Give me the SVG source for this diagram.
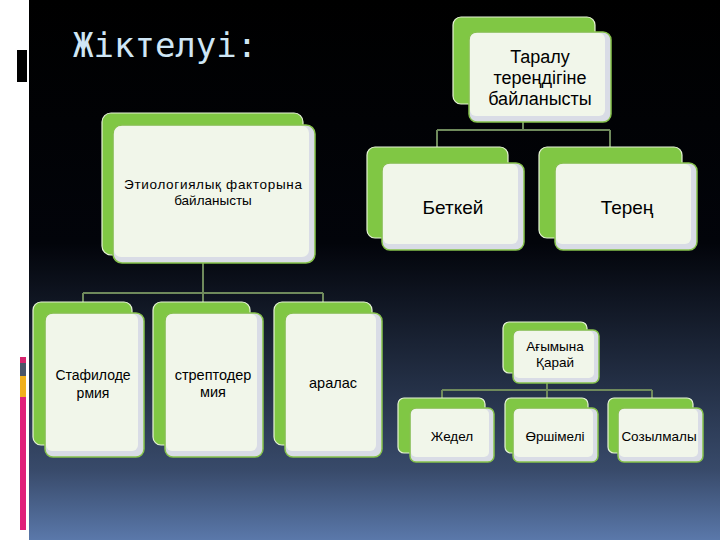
<svg xmlns="http://www.w3.org/2000/svg" width="720" height="540" viewBox="0 0 720 540">
  <defs>
    <linearGradient id="bg" x1="0" y1="0" x2="0" y2="1">
      <stop offset="0" stop-color="#000000"/>
      <stop offset="0.45" stop-color="#02040a"/>
      <stop offset="0.87" stop-color="#384a6a"/>
      <stop offset="1" stop-color="#5a78aa"/>
    </linearGradient>
    <style>
      .back { fill: #80c744; stroke: #e6f3d6; stroke-width: 1.2; }
      .shade { fill: #d9dce6; stroke: #86c24c; stroke-width: 1.5; }
      .face { fill: #f1f6ea; }
      .lbl { font-family: "Liberation Sans", Arial, sans-serif; fill: #000000; text-anchor: middle; }
      .conn { stroke: #6f8a5c; stroke-width: 2; fill: none; }
    </style>
  </defs>

  <rect x="0" y="0" width="720" height="540" fill="#ffffff"/>
  <rect x="29" y="0" width="691" height="540" fill="url(#bg)"/>

  <!-- left decorative bars -->
  <rect x="17" y="50" width="10" height="32" fill="#000000"/>
  <rect x="20" y="357" width="6" height="6" fill="#d6246e"/>
  <rect x="20" y="363" width="6" height="13" fill="#4a5568"/>
  <rect x="20" y="376" width="6" height="21" fill="#f0b01c"/>
  <rect x="20" y="397" width="6" height="133" fill="#e0207a"/>

  <text x="73" y="57" font-family="'DejaVu Sans Mono', 'Liberation Mono', monospace" font-size="34" fill="#cfe6f5">Жіктелуі:</text>

  <g id="connectors">
    <path class="conn" d="M523,122 V130 M437,130 H610 M437,130 V147 M610,130 V147"/>
    <path class="conn" d="M203,263 V293 M83,293 H323 M83,293 V302 M203,293 V302 M323,293 V302"/>
    <path class="conn" d="M547,383 V390 M442,390 H652 M442,390 V398 M547,390 V398 M652,390 V398"/>
  </g>

  <g id="n-taralu">
    <rect class="back" x="453" y="17" width="142" height="87" rx="8"/>
    <rect class="shade" x="469" y="32" width="142" height="90" rx="8"/>
    <rect class="face" x="470" y="33" width="135" height="83" rx="6"/>
    <text class="lbl" font-size="18"><tspan x="540" y="63">Таралу</tspan><tspan x="540" y="84">тереңдігіне</tspan><tspan x="540" y="105">байланысты</tspan></text>
  </g>

  <g id="n-etiol">
    <rect class="back" x="102" y="113" width="201" height="142" rx="9"/>
    <rect class="shade" x="113" y="125" width="202" height="138" rx="9"/>
    <rect class="face" x="114" y="126" width="195" height="131" rx="7"/>
    <text class="lbl" x="213" y="189" font-size="13.5" textLength="178" lengthAdjust="spacing">Этиологиялық факторына</text>
    <text class="lbl" x="213" y="205" font-size="13.5">байланысты</text>
  </g>

  <g id="n-betkei">
    <rect class="back" x="367" y="147" width="141" height="91" rx="8"/>
    <rect class="shade" x="382" y="163" width="142" height="87" rx="8"/>
    <rect class="face" x="383" y="164" width="135" height="80" rx="6"/>
    <text class="lbl" x="453" y="214" font-size="19">Беткей</text>
  </g>

  <g id="n-teren">
    <rect class="back" x="539" y="147" width="143" height="91" rx="8"/>
    <rect class="shade" x="555" y="163" width="142" height="87" rx="8"/>
    <rect class="face" x="556" y="164" width="135" height="80" rx="6"/>
    <text class="lbl" x="627" y="214" font-size="19">Терең</text>
  </g>

  <g id="n-staf">
    <rect class="back" x="33" y="302" width="99" height="143" rx="8"/>
    <rect class="shade" x="45" y="313" width="99" height="144" rx="8"/>
    <rect class="face" x="46" y="314" width="92" height="137" rx="6"/>
    <text class="lbl" font-size="14"><tspan x="93" y="380">Стафилоде</tspan><tspan x="93" y="398">рмия</tspan></text>
  </g>

  <g id="n-strep">
    <rect class="back" x="153" y="302" width="97" height="143" rx="8"/>
    <rect class="shade" x="165" y="313" width="98" height="144" rx="8"/>
    <rect class="face" x="166" y="314" width="91" height="137" rx="6"/>
    <text class="lbl" font-size="14.5"><tspan x="213" y="380">стрептодер</tspan><tspan x="213" y="397">мия</tspan></text>
  </g>

  <g id="n-aralas">
    <rect class="back" x="274" y="302" width="98" height="143" rx="8"/>
    <rect class="shade" x="285" y="313" width="97" height="144" rx="8"/>
    <rect class="face" x="286" y="314" width="90" height="137" rx="6"/>
    <text class="lbl" x="333" y="388" font-size="14.5">аралас</text>
  </g>

  <g id="n-agym">
    <rect class="back" x="503" y="322" width="84" height="51" rx="6"/>
    <rect class="shade" x="513" y="330" width="86" height="53" rx="6"/>
    <rect class="face" x="514" y="331" width="80" height="47" rx="5"/>
    <text class="lbl" font-size="13.5"><tspan x="555" y="351">Ағымына</tspan><tspan x="555" y="367">Қарай</tspan></text>
  </g>

  <g id="n-zhedel">
    <rect class="back" x="398" y="398" width="87" height="55" rx="6"/>
    <rect class="shade" x="410" y="408" width="84" height="54" rx="6"/>
    <rect class="face" x="411" y="409" width="78" height="48" rx="5"/>
    <text class="lbl" x="452" y="441" font-size="13.5">Жедел</text>
  </g>

  <g id="n-orshimeli">
    <rect class="back" x="505" y="398" width="83" height="55" rx="6"/>
    <rect class="shade" x="513" y="408" width="85" height="54" rx="6"/>
    <rect class="face" x="514" y="409" width="79" height="48" rx="5"/>
    <text class="lbl" x="555" y="441" font-size="13.5">Өршімелі</text>
  </g>

  <g id="n-sozylmaly">
    <rect class="back" x="608" y="398" width="85" height="55" rx="6"/>
    <rect class="shade" x="618" y="408" width="85" height="54" rx="6"/>
    <rect class="face" x="619" y="409" width="79" height="48" rx="5"/>
    <text class="lbl" x="659" y="441" font-size="13.5">Созылмалы</text>
  </g>
</svg>
